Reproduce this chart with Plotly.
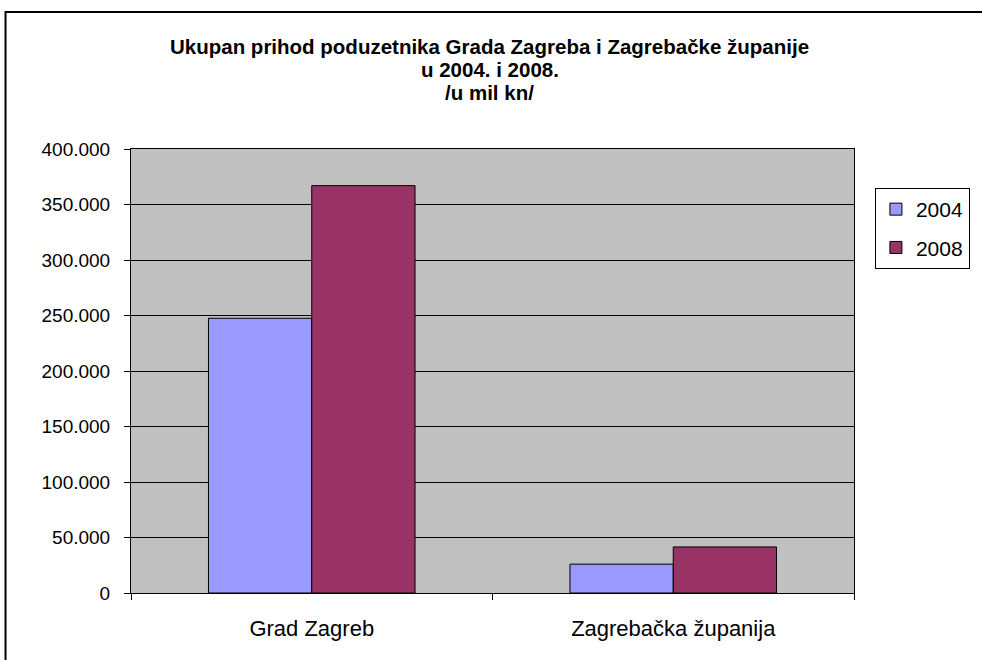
import plotly.graph_objects as go

categories = ["Grad Zagreb", "Zagrebačka županija"]
series_names = ["2004", "2008"]
values_2004 = [247500, 26000]
values_2008 = [367000, 41500]
colors = ["#9999FF", "#993366"]
title_lines = ["Ukupan prihod poduzetnika Grada Zagreba i Zagrebačke županije",
               "u 2004. i 2008.", "/u mil kn/"]

FONT = "Liberation Sans, Arial, sans-serif"
W, H = 982, 660
L, T = 131, 149
pw, ph = 726, 444
R, B = W - L - pw, H - T - ph

fig = go.Figure()
for name, vals, col in zip(series_names, [values_2004, values_2008], colors):
    fig.add_trace(go.Bar(x=categories, y=vals, name=name, legendgroup=name,
                         marker=dict(color=col, line=dict(color="black", width=1))))

def px2x(px):
    return (px - L) / pw

def py2y(py):
    return (T + ph - py) / ph

annotations = []
for line, ypix in zip(title_lines, [46, 69, 93]):
    annotations.append(dict(text="<b>" + line + "</b>", xref="paper", yref="paper",
                            x=px2x(491), y=py2y(ypix), xanchor="center", yanchor="middle",
                            showarrow=False,
                            font=dict(size=20.5, family=FONT, color="black")))

fig.update_layout(
    width=W, height=H,
    margin=dict(l=L, r=R, t=T, b=B, pad=0),
    paper_bgcolor="white", plot_bgcolor="#C0C0C0",
    separators=",.",
    font=dict(family=FONT, color="black", size=19),
    barmode="group", bargap=0.4286, bargroupgap=0,
    showlegend=True,
    legend=dict(x=px2x(878), y=py2y(188), xanchor="left", yanchor="top",
                bordercolor="black", borderwidth=1, bgcolor="white",
                font=dict(size=21, family=FONT), itemwidth=30,
                tracegroupgap=8, traceorder="grouped"),
    annotations=annotations,
    shapes=[dict(type="rect", xref="paper", yref="paper",
                 x0=px2x(5), x1=px2x(1000), y0=py2y(680), y1=py2y(12),
                 line=dict(color="black", width=2), fillcolor="rgba(0,0,0,0)",
                 layer="above")],
)
fig.update_xaxes(showgrid=False, showline=True, mirror=True, linecolor="black", linewidth=1,
                 ticks="outside", tickson="boundaries", ticklen=6, tickcolor="black",
                 tickfont=dict(size=22, family=FONT), ticklabelstandoff=16, zeroline=False)
fig.update_yaxes(range=[0, 400000], dtick=50000, tickformat=",d",
                 showgrid=True, gridcolor="black", gridwidth=1,
                 showline=True, mirror=True, linecolor="black", linewidth=1,
                 ticks="outside", ticklen=6, tickcolor="black",
                 tickfont=dict(size=19, family=FONT), ticklabelstandoff=10, zeroline=False)

fig.write_html("out.html", config={"displayModeBar": False},
               post_script="document.body.style.margin='0';")
